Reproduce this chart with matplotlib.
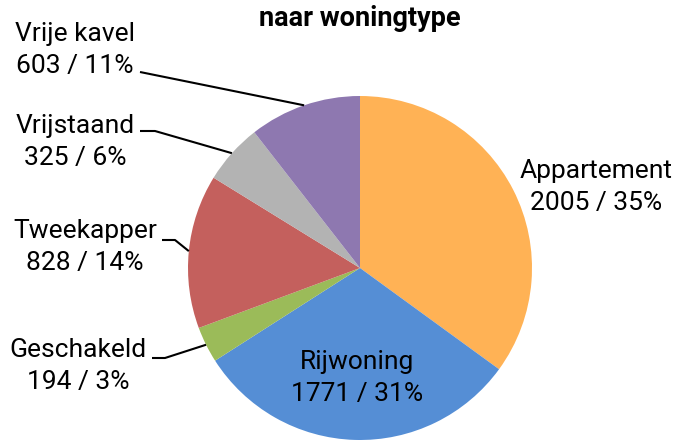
import numpy as np
import matplotlib
matplotlib.use("Agg")
import matplotlib.pyplot as plt

plt.rcParams['font.family'] = ['Roboto', 'DejaVu Sans']

categories = ["Appartement", "Rijwoning", "Geschakeld", "Tweekapper", "Vrijstaand", "Vrije kavel"]
values = [2005, 1771, 194, 828, 325, 603]
percents = [35, 31, 3, 14, 6, 11]
colors = ["#FFB255", "#558ED5", "#9BBB59", "#C4605D", "#B3B3B3", "#8E78B0"]
title = "naar woningtype"

W, H = 679, 440
fig = plt.figure(figsize=(W / 100, H / 100), dpi=100)
ax = fig.add_axes([0, 0, 1, 1])
cx, cy, R = 360, 268, 172

def px(x, y):
    return ((x - cx) / R, (cy - y) / R)

wedges, _ = ax.pie(values, colors=colors, startangle=90, counterclock=False,
                   radius=1, center=(0, 0), frame=True,
                   wedgeprops=dict(linewidth=0))
ax.set_xlim(-cx / R, (W - cx) / R)
ax.set_ylim(-(H - cy) / R, cy / R)
ax.axis('off')

fs = 19
label_pos = {
    "Appartement": (596, 187, None),
    "Rijwoning": (357, 378, None),
    "Geschakeld": (78, 366, (152, 358, 165)),
    "Tweekapper": (85, 247, (162, 240, 175)),
    "Vrijstaand": (75, 142, (140, 131, 155)),
    "Vrije kavel": (75, 50, (140, 72, 140)),
}
for w, cat, v, p in zip(wedges, categories, values, percents):
    tx, ty, lead = label_pos[cat]
    x, y = px(tx, ty)
    ax.text(x, y, f"{cat}\n{v} / {p}%", ha='center', va='center',
            fontsize=fs, color='black', linespacing=1.38)
    if lead is not None:
        mid = np.deg2rad((w.theta1 + w.theta2) / 2)
        ex, ey = np.cos(mid), np.sin(mid)
        x0, y0 = px(lead[0], lead[1])
        x1, y1 = px(lead[2], lead[1])
        ax.plot([x0, x1, ex], [y0, y1, ey], color='black', lw=1.5,
                solid_capstyle='butt', zorder=5)

fig.text(360 / W, 1 - 18 / H, title, ha='center', va='center',
         fontsize=19.5, fontweight='bold')

fig.savefig("out.png", dpi=100)
